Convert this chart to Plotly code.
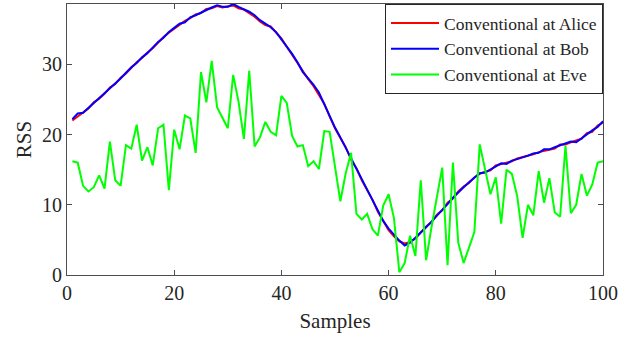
import plotly.graph_objects as go

samples = list(range(1, 101))

alice = [22.0, 22.6, 23.2, 23.7, 24.6, 25.1, 25.8, 26.7, 27.2, 28.1,
         28.7, 29.5, 30.3, 30.9, 31.7, 32.3, 33.1, 33.9, 34.5, 35.1,
         35.6, 36.2, 36.6, 37.1, 37.3, 37.9, 38.0, 38.3, 38.1, 38.3,
         38.4, 38.0, 37.8, 37.3, 36.8, 36.1, 35.6, 35.4, 34.5, 33.7,
         32.5, 31.3, 30.2, 29.0, 27.9, 26.9, 25.7, 24.4, 22.6, 20.9,
         19.5, 18.2, 16.4, 15.2, 13.5, 12.1, 10.7, 9.0, 7.6, 6.4,
         5.5, 4.8, 4.5, 4.7, 5.2, 6.1, 6.9, 7.5, 8.6, 9.2,
         10.3, 10.9, 11.9, 12.6, 13.1, 13.9, 14.4, 14.7, 14.9, 15.6,
         15.8, 16.1, 16.2, 16.6, 16.8, 16.9, 17.2, 17.5, 17.7, 17.8,
         18.0, 18.6, 18.6, 18.9, 19.2, 19.4, 20.2, 20.4, 21.3, 21.7]

bob = [22.2, 23.0, 23.1, 23.8, 24.5, 25.2, 25.9, 26.5, 27.3, 28.0,
       28.8, 29.6, 30.2, 31.0, 31.6, 32.4, 33.2, 33.8, 34.6, 35.2,
       35.8, 36.0, 36.7, 37.0, 37.4, 37.8, 38.1, 38.4, 38.2, 38.2,
       38.6, 38.2, 37.9, 37.5, 37.0, 36.3, 35.8, 35.3, 34.6, 33.6,
       32.6, 31.5, 30.3, 28.9, 28.0, 27.1, 26.0, 24.3, 22.5, 21.0,
       19.6, 18.1, 16.6, 15.1, 13.6, 12.2, 10.6, 9.1, 7.7, 6.6,
       5.7, 4.9, 4.2, 4.6, 5.3, 6.0, 6.8, 7.6, 8.4, 9.3,
       10.1, 11.0, 11.8, 12.5, 13.2, 13.8, 14.5, 14.6, 15.0, 15.5,
       15.9, 15.8, 16.3, 16.5, 16.7, 17.0, 17.3, 17.4, 17.9, 17.9,
       18.2, 18.5, 18.8, 19.0, 18.9, 19.5, 20.0, 20.6, 21.1, 21.9]

eve = [16.2, 16.0, 12.7, 11.9, 12.5, 14.2, 12.3, 19.0, 13.5, 12.7,
       18.5, 18.0, 21.4, 16.3, 18.2, 15.6, 20.9, 21.4, 12.1, 20.7,
       17.9, 22.7, 22.3, 17.4, 28.9, 24.6, 30.5, 23.9, 22.4, 20.9,
       28.5, 24.7, 19.4, 29.1, 18.3, 19.6, 21.8, 20.4, 19.9, 25.5,
       24.5, 19.8, 18.3, 18.5, 15.5, 16.2, 15.1, 20.5, 20.4, 15.2,
       10.5, 14.5, 17.4, 8.7, 7.9, 8.7, 6.5, 5.6, 9.9, 11.5,
       8.1, 0.4, 1.7, 5.6, 2.7, 13.5, 2.1, 6.8, 11.0, 15.3,
       1.4, 16.0, 4.6, 1.7, 3.9, 6.1, 18.6, 14.8, 11.5, 13.9,
       7.3, 15.0, 14.4, 11.2, 5.3, 10.0, 8.5, 14.8, 10.3, 13.8,
       8.9, 8.3, 18.4, 8.8, 10.0, 14.4, 11.3, 12.9, 16.0, 16.2]

x_ticks = [0, 20, 40, 60, 80, 100]
y_ticks = [0, 10, 20, 30]

FONT = "Liberation Serif"
AX = "#4d4d4d"
TXT = "#262626"

fig = go.Figure()
fig.add_trace(go.Scatter(x=samples, y=alice, mode="lines", name="Conventional at Alice",
                         line=dict(color="#ff0000", width=2)))
fig.add_trace(go.Scatter(x=samples, y=bob, mode="lines", name="Conventional at Bob",
                         line=dict(color="#0000ff", width=2)))
fig.add_trace(go.Scatter(x=samples, y=eve, mode="lines", name="Conventional at Eve",
                         line=dict(color="#00ff00", width=2)))

axis_common = dict(showgrid=False, zeroline=False, showline=True, mirror="ticks",
                   linecolor=AX, linewidth=1, ticks="inside", ticklen=5,
                   tickcolor=AX, tickwidth=1,
                   tickfont=dict(family=FONT, size=20, color=TXT))

fig.update_layout(
    width=639, height=337,
    margin=dict(l=67, r=36, t=4, b=62),
    paper_bgcolor="white", plot_bgcolor="white",
    font=dict(family=FONT, color=TXT),
    xaxis=dict(range=[0, 100], tickvals=x_ticks, ticktext=[str(v) for v in x_ticks],
               title=dict(text="Samples", font=dict(family=FONT, size=21, color=TXT),
                          standoff=10),
               **axis_common),
    yaxis=dict(range=[0, 38.6], tickvals=y_ticks, ticktext=[str(v) for v in y_ticks],
               title=dict(text="RSS", font=dict(family=FONT, size=21, color=TXT),
                          standoff=4),
               **axis_common),
    legend=dict(x=1, y=1, xanchor="right", yanchor="top",
                bgcolor="white", bordercolor=TXT, borderwidth=1,
                font=dict(family=FONT, size=17.5, color=TXT),
                tracegroupgap=0, itemwidth=48),
    showlegend=True,
)

fig.write_html("out.html")
